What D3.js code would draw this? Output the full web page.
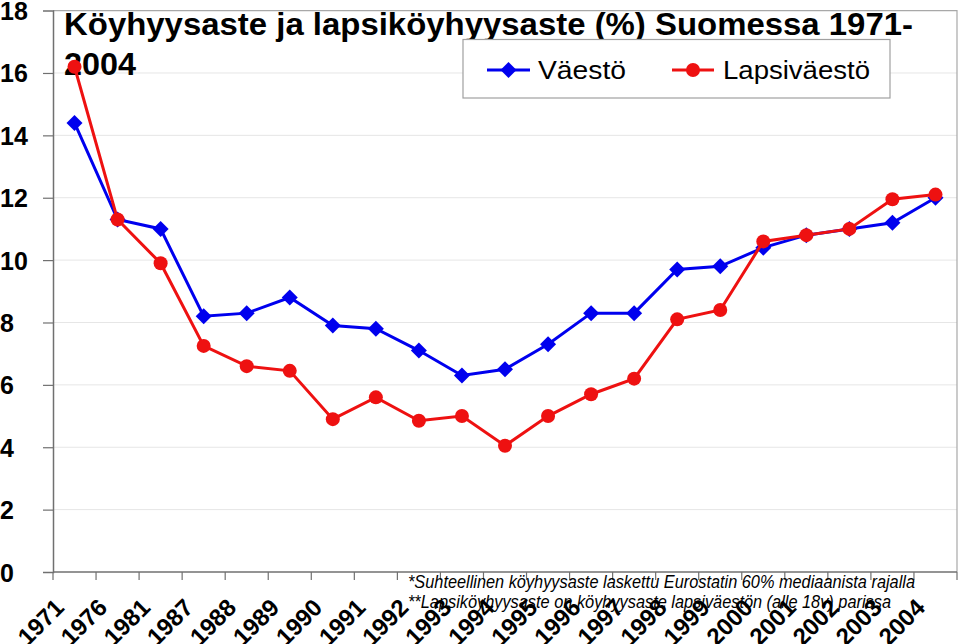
<!DOCTYPE html>
<html>
<head>
<meta charset="utf-8">
<script src="https://cdn.jsdelivr.net/npm/d3@7"></script>
<style>
  body { margin: 0; background: #fff; }
  svg { display: block; font-family: Arial, "Liberation Sans", sans-serif; }
</style>
</head>
<body>
<svg id="chart" width="960" height="644"></svg>
<script>
// vuodet (kategoria-akseli)
var years = ['1971', '1976', '1981', '1987', '1988', '1989', '1990', '1991', '1992', '1993', '1994',
  '1995', '1996', '1997', '1998', '1999', '2000', '2001', '2002', '2003', '2004'];
// köyhyysaste, koko väestö
var vaesto = [14.4, 11.3, 11.0, 8.2, 8.3, 8.8, 7.9, 7.8, 7.1, 6.3, 6.5,
  7.3, 8.3, 8.3, 9.7, 9.8, 10.4, 10.8, 11.0, 11.2, 12.0];
// lapsiköyhyysaste
var lapsivaesto = [16.2, 11.3, 9.9, 7.25, 6.6, 6.45, 4.9, 5.6, 4.85, 5.0, 4.05,
  5.0, 5.7, 6.2, 8.1, 8.4, 10.6, 10.8, 11.0, 11.95, 12.1];
var yTicks = [0, 2, 4, 6, 8, 10, 12, 14, 16, 18];

var svg = d3.select('#chart');
var plotLeft = 53, plotRight = 957, plotTop = 10.6, plotBottom = 572;

var x = d3.scaleBand().domain(years).range([plotLeft, plotRight]);
var y = d3.scaleLinear().domain([0, 18]).range([plotBottom, plotTop]);

//ruudukko
svg.append('g').selectAll('line').data(yTicks.slice(1, -1)).enter().append('line')
  .attr('x1', plotLeft).attr('x2', plotRight)
  .attr('y1', function(d) { return y(d); }).attr('y2', function(d) { return y(d); })
  .attr('stroke', '#e6e6e6').attr('stroke-width', 1);

//kehys ylhäällä ja oikealla
svg.append('path')
  .attr('d', 'M' + plotLeft + ',' + y(18) + 'H' + plotRight + 'V' + plotBottom)
  .attr('fill', 'none').attr('stroke', '#a8a8a8').attr('stroke-width', 1.2);

//y-akseli
var yAxis = svg.append('g').attr('transform', 'translate(' + plotLeft + ',0)')
  .call(d3.axisLeft(y).tickValues(yTicks).tickSize(10).tickPadding(12).tickFormat(d3.format('d')));
yAxis.select('.domain').attr('stroke', '#707070').attr('stroke-width', 1.5);
yAxis.selectAll('.tick line').attr('stroke', '#707070').attr('stroke-width', 1.2);
yAxis.selectAll('.tick text').attr('font-size', 25).attr('font-weight', 'bold').attr('fill', '#000')
  .attr('font-family', 'Arial, "Liberation Sans", sans-serif')
  .attr('text-anchor', 'start').attr('x', -53).attr('dy', '0.36em');
yAxis.selectAll('.tick').filter(function(d) { return d === 0 || d === 18; }).select('line').remove();

//x-akseli, tikit kategorioiden välissä
var xAxis = svg.append('g');
xAxis.append('line').attr('x1', plotLeft).attr('x2', plotRight).attr('y1', plotBottom).attr('y2', plotBottom)
  .attr('stroke', '#707070').attr('stroke-width', 1.5);
xAxis.selectAll('line.tk').data(years.concat(['end'])).enter().append('line').attr('class', 'tk')
  .attr('x1', function(d, i) { return plotLeft + i * x.bandwidth(); })
  .attr('x2', function(d, i) { return plotLeft + i * x.bandwidth(); })
  .attr('y1', plotBottom).attr('y2', plotBottom + 8)
  .attr('stroke', '#707070').attr('stroke-width', 1.2);

//alaviitteet
var notes = ['*Suhteellinen köyhyysaste laskettu Eurostatin 60% mediaanista rajalla',
  '**Lapsiköyhyysaste on köyhyysaste lapsiväestön (alle 18v) parissa'];
svg.append('g').selectAll('text').data(notes).enter().append('text')
  .attr('x', 408).attr('y', function(d, i) { return 588 + i * 19.5; })
  .attr('font-size', 17.5).attr('font-style', 'italic').attr('fill', '#000')
  .attr('textLength', function(d, i) { return i == 0 ? 507 : 483; })
  .attr('lengthAdjust', 'spacingAndGlyphs')
  .text(function(d) { return d; });

xAxis.selectAll('text').data(years).enter().append('text')
  .attr('transform', function(d) { return 'translate(' + (x(d) + x.bandwidth() / 2 - 9) + ',609) rotate(-45)'; })
  .attr('text-anchor', 'end')
  .attr('font-size', 24).attr('font-weight', 'bold').attr('fill', '#000')
  .text(function(d) { return d; });

//otsikko
var title = svg.append('text').attr('font-size', 31).attr('font-weight', 'bold').attr('fill', '#000');
title.append('tspan').attr('x', 64).attr('y', 35)
  .attr('textLength', 849).attr('lengthAdjust', 'spacingAndGlyphs')
  .text('Köyhyysaste ja lapsiköyhyysaste (%) Suomessa 1971-');
title.append('tspan').attr('x', 64).attr('y', 75)
  .attr('textLength', 72).attr('lengthAdjust', 'spacingAndGlyphs')
  .text('2004');

//sarjat
var line = d3.line()
  .x(function(d, i) { return x(years[i]) + x.bandwidth() / 2; })
  .y(function(d) { return y(d); });

function diamond(g, cx, cy, r, color) {
  g.append('path')
    .attr('d', 'M' + cx + ',' + (cy - r) + 'L' + (cx + r) + ',' + cy + 'L' + cx + ',' + (cy + r) + 'L' + (cx - r) + ',' + cy + 'Z')
    .attr('fill', color);
}

var gV = svg.append('g');
gV.append('path').datum(vaesto).attr('d', line)
  .attr('fill', 'none').attr('stroke', '#0000ee').attr('stroke-width', 3);
vaesto.forEach(function(d, i) {
  diamond(gV, x(years[i]) + x.bandwidth() / 2, y(d), 8, '#0000ee');
});

var gL = svg.append('g');
gL.append('path').datum(lapsivaesto).attr('d', line)
  .attr('fill', 'none').attr('stroke', '#ee1111').attr('stroke-width', 3);
gL.selectAll('circle').data(lapsivaesto).enter().append('circle')
  .attr('cx', function(d, i) { return x(years[i]) + x.bandwidth() / 2; })
  .attr('cy', function(d) { return y(d); })
  .attr('r', 7).attr('fill', '#ee1111');

//selite
var legend = svg.append('g');
legend.append('rect').attr('x', 463).attr('y', 39.5).attr('width', 427).attr('height', 58.5)
  .attr('fill', '#fff').attr('stroke', '#a0a0a0').attr('stroke-width', 1.2);
legend.append('line').attr('x1', 487).attr('x2', 530).attr('y1', 70).attr('y2', 70)
  .attr('stroke', '#0000ee').attr('stroke-width', 3);
diamond(legend, 508.5, 70, 8, '#0000ee');
legend.append('text').attr('x', 538).attr('y', 79).attr('font-size', 26).attr('fill', '#000')
  .attr('textLength', 88).attr('lengthAdjust', 'spacingAndGlyphs').text('Väestö');
legend.append('line').attr('x1', 672).attr('x2', 714).attr('y1', 70).attr('y2', 70)
  .attr('stroke', '#ee1111').attr('stroke-width', 3);
legend.append('circle').attr('cx', 693).attr('cy', 70).attr('r', 7).attr('fill', '#ee1111');
legend.append('text').attr('x', 723).attr('y', 79).attr('font-size', 26).attr('fill', '#000')
  .attr('textLength', 147).attr('lengthAdjust', 'spacingAndGlyphs').text('Lapsiväestö');
</script>
</body>
</html>
